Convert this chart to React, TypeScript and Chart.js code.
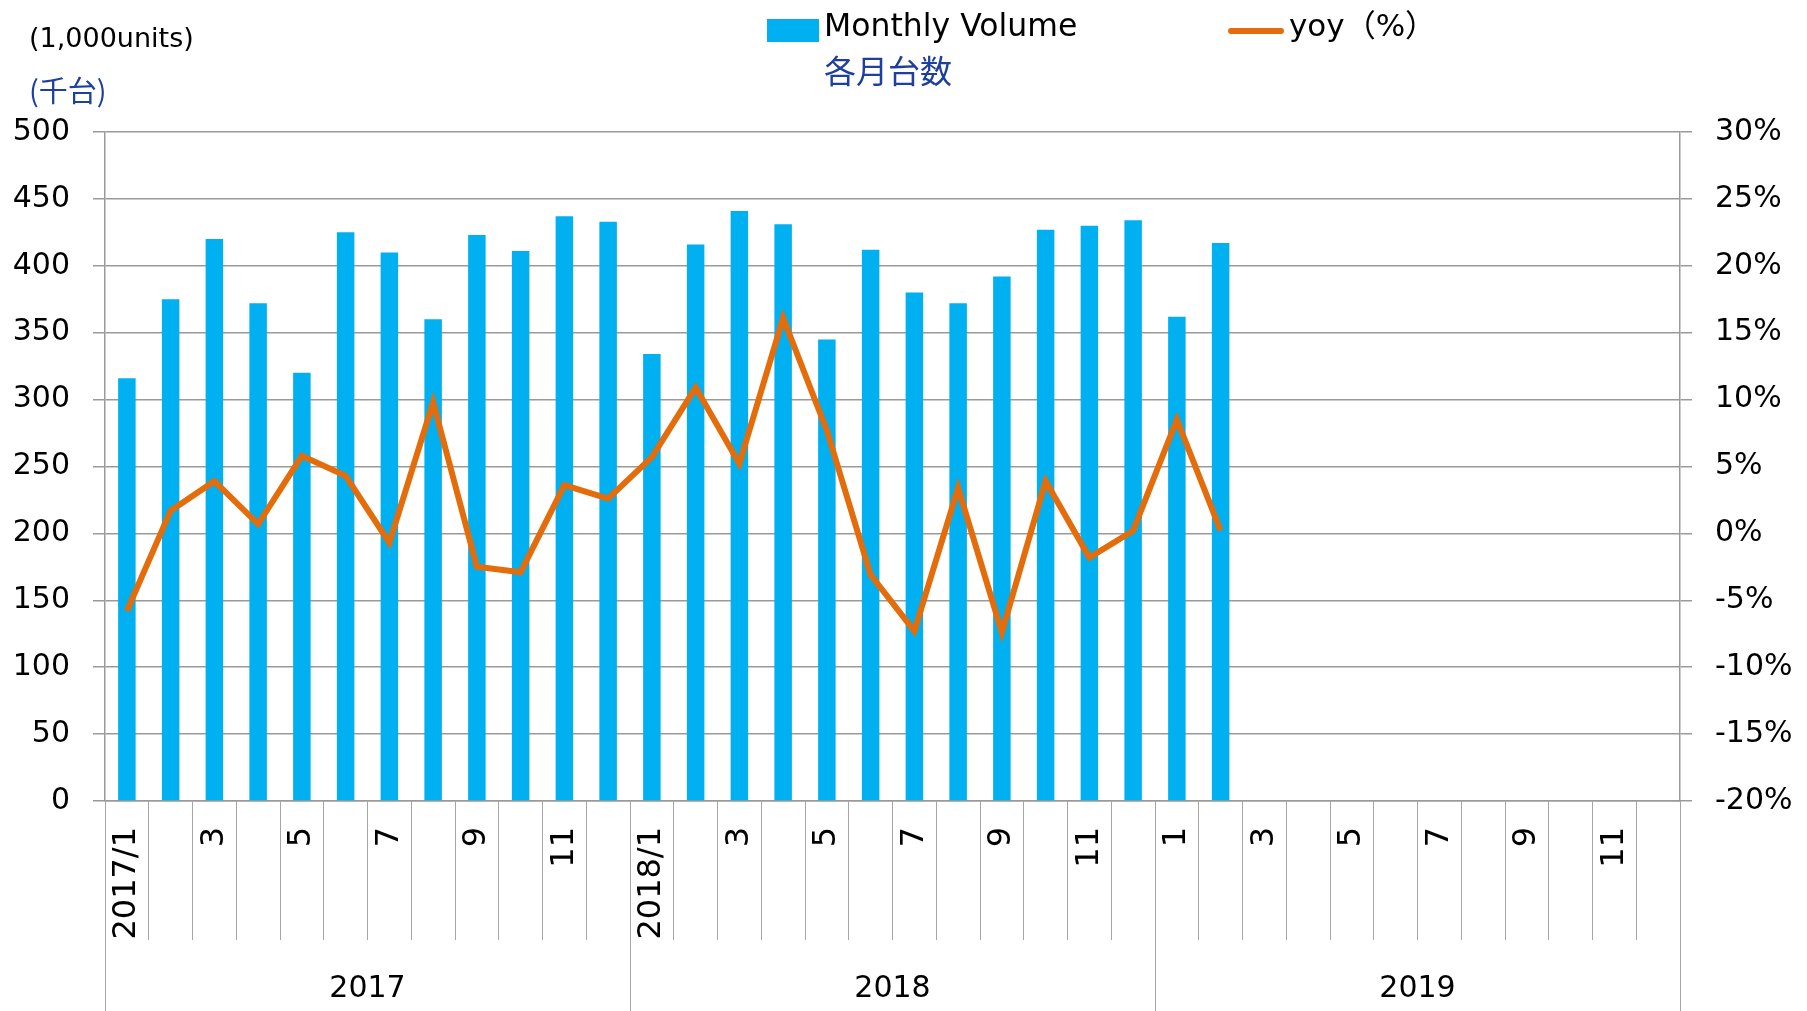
import React, { useEffect, useRef } from 'react';
import { Chart, registerables } from 'chart.js';

Chart.register(...registerables);

const W = 1807;
const H = 1011;

const monthLabels = [
  '2017/1', '', '3', '', '5', '', '7', '', '9', '', '11', '',
  '2018/1', '', '3', '', '5', '', '7', '', '9', '', '11', '',
  '1', '', '3', '', '5', '', '7', '', '9', '', '11', '',
];
const yearLabels = ['2017', '2018', '2019'];

// Monthly volume (1,000 units)
const monthlyVolume = [
  316, 375, 420, 372, 320, 425, 410, 360, 423, 411, 437, 433,
  334, 416, 441, 431, 345, 412, 380, 372, 392, 427, 430, 434,
  362, 417,
];
// Year-on-year change (%)
const yoyPercent = [
  -5.8, 1.7, 3.9, 0.7, 5.8, 4.3, -0.7, 9.8, -2.5, -2.9, 3.6, 2.6,
  5.7, 10.9, 5.2, 16.1, 7.7, -3.1, -7.3, 3.4, -7.4, 3.9, -1.8, 0.2,
  8.5, 0.2,
];

const leftAxis = { min: 0, max: 500, step: 50 };
const rightAxis = { min: -20, max: 30, step: 5 };

const barColor = '#00b0f0';
const lineColor = '#e46c0a';
const gridColor = '#9a9a9a';
const blueText = '#1d3f9e';
const FONT = "'DejaVu Sans', Verdana, sans-serif";
const CJK = "'Noto Sans CJK JP', 'Noto Sans CJK SC', sans-serif";

const headerPlugin = {
  id: 'header',
  afterDraw(chart: any) {
    const ctx = chart.ctx as CanvasRenderingContext2D;
    ctx.save();
    ctx.textBaseline = 'middle';
    ctx.textAlign = 'left';
    // unit labels
    ctx.fillStyle = '#000';
    ctx.font = `27px ${FONT}`;
    ctx.fillText('(1,000units)', 29, 40);
    ctx.fillStyle = blueText;
    ctx.font = `29px ${CJK}`;
    ctx.fillText('(千台)', 29, 91);

    // legend: bars
    const ds0 = chart.data.datasets[0];
    const ds1 = chart.data.datasets[1];
    ctx.fillStyle = ds0.backgroundColor;
    ctx.fillRect(767, 19, 52, 23);
    ctx.fillStyle = '#000';
    ctx.font = `31.5px ${FONT}`;
    ctx.fillText(ds0.label, 824, 28);
    ctx.fillStyle = blueText;
    ctx.font = `32px ${CJK}`;
    ctx.fillText('各月台数', 824, 71);

    // legend: line
    ctx.strokeStyle = ds1.borderColor;
    ctx.lineWidth = 6;
    ctx.lineCap = 'round';
    ctx.beginPath();
    ctx.moveTo(1231, 31);
    ctx.lineTo(1281, 31);
    ctx.stroke();
    ctx.fillStyle = '#000';
    ctx.font = `31px ${FONT}, ${CJK}`;
    ctx.fillText(ds1.label, 1289, 28);
    ctx.restore();
  },
};

export default function App() {
  const ref = useRef<HTMLCanvasElement>(null);

  useEffect(() => {
    const canvas = ref.current;
    if (!canvas) return;
    const chart = new Chart(canvas, {
      type: 'bar',
      data: {
        labels: monthLabels,
        datasets: [
          {
            type: 'bar',
            label: 'Monthly Volume',
            data: monthlyVolume,
            backgroundColor: barColor,
            borderWidth: 0,
            barPercentage: 0.4,
            categoryPercentage: 1.0,
            yAxisID: 'y',
            xAxisID: 'x',
            order: 2,
          },
          {
            type: 'line',
            label: 'yoy（%）',
            data: yoyPercent,
            borderColor: lineColor,
            backgroundColor: lineColor,
            borderWidth: 6,
            pointRadius: 0,
            tension: 0,
            yAxisID: 'y1',
            xAxisID: 'x',
            order: 1,
          },
        ],
      } as any,
      options: {
        responsive: false,
        devicePixelRatio: 1,
        animation: false,
        layout: { padding: { top: 132, left: 0, right: 0, bottom: 0 } },
        plugins: {
          legend: { display: false },
          tooltip: { enabled: false },
          title: { display: false },
        },
        scales: {
          x: {
            type: 'category',
            position: 'bottom',
            offset: true,
            weight: 0,
            grid: {
              offset: true,
              drawOnChartArea: false,
              drawTicks: true,
              tickLength: 139,
              color: '#a6a6a6',
              lineWidth: 1,
            },
            border: { display: true, color: gridColor, width: 1.5 },
            ticks: {
              autoSkip: false,
              minRotation: 90,
              maxRotation: 90,
              padding: -113,
              color: '#000',
              font: { family: FONT, size: 32 },
            },
            afterFit: (s: any) => { s.height = 139; },
          },
          x2: {
            type: 'category',
            position: 'bottom',
            labels: yearLabels,
            offset: true,
            weight: 1,
            grid: {
              offset: true,
              drawOnChartArea: false,
              drawTicks: true,
              tickLength: 71,
              color: '#a6a6a6',
              lineWidth: 1,
            },
            border: { display: false },
            ticks: {
              autoSkip: false,
              maxRotation: 0,
              minRotation: 0,
              padding: -40,
              color: '#000',
              font: { family: FONT, size: 30 },
            },
            afterFit: (s: any) => { s.height = 71; },
          },
          y: {
            type: 'linear',
            position: 'left',
            min: leftAxis.min,
            max: leftAxis.max,
            grid: { color: gridColor, lineWidth: 1.5, tickLength: 12 },
            border: { display: true, color: gridColor, width: 1.5 },
            ticks: {
              stepSize: leftAxis.step,
              padding: 23,
              color: '#000',
              font: { family: FONT, size: 30 },
            },
            afterFit: (s: any) => { s.width = 105; },
          },
          y1: {
            type: 'linear',
            position: 'right',
            min: rightAxis.min,
            max: rightAxis.max,
            grid: { drawOnChartArea: false, color: gridColor, lineWidth: 1.5, tickLength: 12 },
            border: { display: true, color: gridColor, width: 1.5 },
            ticks: {
              stepSize: rightAxis.step,
              padding: 23,
              color: '#000',
              font: { family: FONT, size: 30 },
              callback: (v: any) => `${v}%`,
            },
            afterFit: (s: any) => { s.width = 127; },
          },
        },
      } as any,
      plugins: [headerPlugin],
    });
    return () => chart.destroy();
  }, []);

  return (
    <div style={{ position: 'absolute', left: 0, top: 0, width: W, height: H, background: '#fff' }}>
      <canvas ref={ref} width={W} height={H} style={{ width: W, height: H, display: 'block' }} />
    </div>
  );
}
